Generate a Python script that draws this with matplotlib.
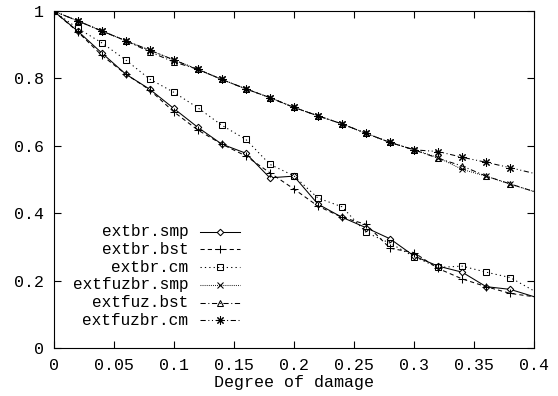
import matplotlib
matplotlib.use("Agg")
import matplotlib.pyplot as plt
from matplotlib.lines import Line2D

x = [0.00, 0.02, 0.04, 0.06, 0.08, 0.10, 0.12, 0.14, 0.16, 0.18, 0.20,
     0.22, 0.24, 0.26, 0.28, 0.30, 0.32, 0.34, 0.36, 0.38, 0.40]

extbr_smp = [1.0, 0.941, 0.876, 0.813, 0.768, 0.711, 0.655, 0.605, 0.578, 0.505, 0.510,
             0.427, 0.388, 0.357, 0.324, 0.273, 0.243, 0.225, 0.182, 0.174, 0.152]
extbr_bst = [1.0, 0.939, 0.869, 0.813, 0.766, 0.701, 0.647, 0.605, 0.570, 0.520, 0.472,
             0.421, 0.388, 0.367, 0.296, 0.283, 0.236, 0.205, 0.182, 0.162, 0.152]
extbr_cm = [1.0, 0.949, 0.906, 0.855, 0.798, 0.759, 0.713, 0.661, 0.619, 0.545, 0.511,
            0.445, 0.419, 0.343, 0.311, 0.271, 0.239, 0.243, 0.225, 0.209, 0.169]
extfuzbr_smp = [1.0, 0.971, 0.941, 0.912, 0.884, 0.855, 0.827, 0.797, 0.769, 0.743, 0.714,
                0.689, 0.665, 0.637, 0.610, 0.588, 0.565, 0.530, 0.510, 0.486, 0.464]
extfuz_bst = [1.0, 0.971, 0.941, 0.912, 0.879, 0.849, 0.827, 0.797, 0.769, 0.743, 0.714,
              0.689, 0.665, 0.637, 0.610, 0.588, 0.563, 0.540, 0.510, 0.487, 0.464]
extfuzbr_cm = [1.0, 0.971, 0.941, 0.912, 0.884, 0.855, 0.827, 0.797, 0.769, 0.743, 0.714,
               0.689, 0.665, 0.637, 0.610, 0.588, 0.583, 0.566, 0.551, 0.535, 0.518]

labels = ["extbr.smp", "extbr.bst", "extbr.cm", "extfuzbr.smp", "extfuz.bst", "extfuzbr.cm"]
xticks = [0, 0.05, 0.1, 0.15, 0.2, 0.25, 0.3, 0.35, 0.4]
xticklabels = ["0", "0.05", "0.1", "0.15", "0.2", "0.25", "0.3", "0.35", "0.4"]
yticks = [0, 0.2, 0.4, 0.6, 0.8, 1.0]
yticklabels = ["0", "0.2", "0.4", "0.6", "0.8", "1"]

series = [extbr_smp, extbr_bst, extbr_cm, extfuzbr_smp, extfuz_bst, extfuzbr_cm]
styles = [
    dict(ls="-", marker="D", ms=3.3, mfc="white"),
    dict(ls=(0, (4, 3)), marker="+", ms=6),
    dict(ls=(0, (1.2, 3)), marker="s", ms=5, mfc="none"),
    dict(ls=(0, (0.8, 1.2)), marker="x", ms=5),
    dict(ls=(0, (5, 2.5, 1, 2.5)), marker="^", ms=4.5, mfc="none"),
    dict(ls=(0, (5, 2.5, 1, 2.5, 1, 2.5)), marker=(8, 2, 0), ms=6),
]

plt.rcParams["font.family"] = ["Liberation Mono", "DejaVu Sans Mono"]
plt.rcParams["font.size"] = 12

fig = plt.figure(figsize=(5.58, 3.96), dpi=100)
ax = fig.add_axes([0.0959, 0.1212, 0.8616, 0.851])

for ys, st in zip(series, styles):
    ax.plot(x, ys, color="black", lw=0.75, mec="black", mew=0.75,
            markevery=list(range(len(x) - 1)), clip_on=True, **st)

ax.set_xlim(0, 0.4)
ax.set_ylim(0, 1)
ax.set_xticks(xticks)
ax.set_xticklabels(xticklabels)
ax.set_yticks(yticks)
ax.set_yticklabels(yticklabels)
ax.tick_params(direction="in", length=5, width=0.8, top=True, right=True,
               labeltop=False, labelright=False)
ax.tick_params(axis="x", pad=7)
ax.tick_params(axis="y", pad=7)
for sp in ax.spines.values():
    sp.set_linewidth(0.8)
ax.set_xlabel("Degree of damage", labelpad=1.5)

# legend (gnuplot style: label right-aligned, sample to the right)
y0 = 0.345
dy = 0.0525
for i, (lab, st) in enumerate(zip(labels, styles)):
    yy = y0 - i * dy
    ax.text(0.280, yy, lab, transform=ax.transAxes, ha="right", va="center",
            fontsize=11.6)
    ax.add_line(Line2D([0.305, 0.388], [yy, yy], transform=ax.transAxes,
                       color="black", lw=0.75, ls=st["ls"]))
    mst = {k: v for k, v in st.items() if k != "ls"}
    ax.add_line(Line2D([0.347], [yy], transform=ax.transAxes, color="black",
                       ls="none", mec="black", mew=0.75, **mst))

fig.savefig("out.png", dpi=100)
